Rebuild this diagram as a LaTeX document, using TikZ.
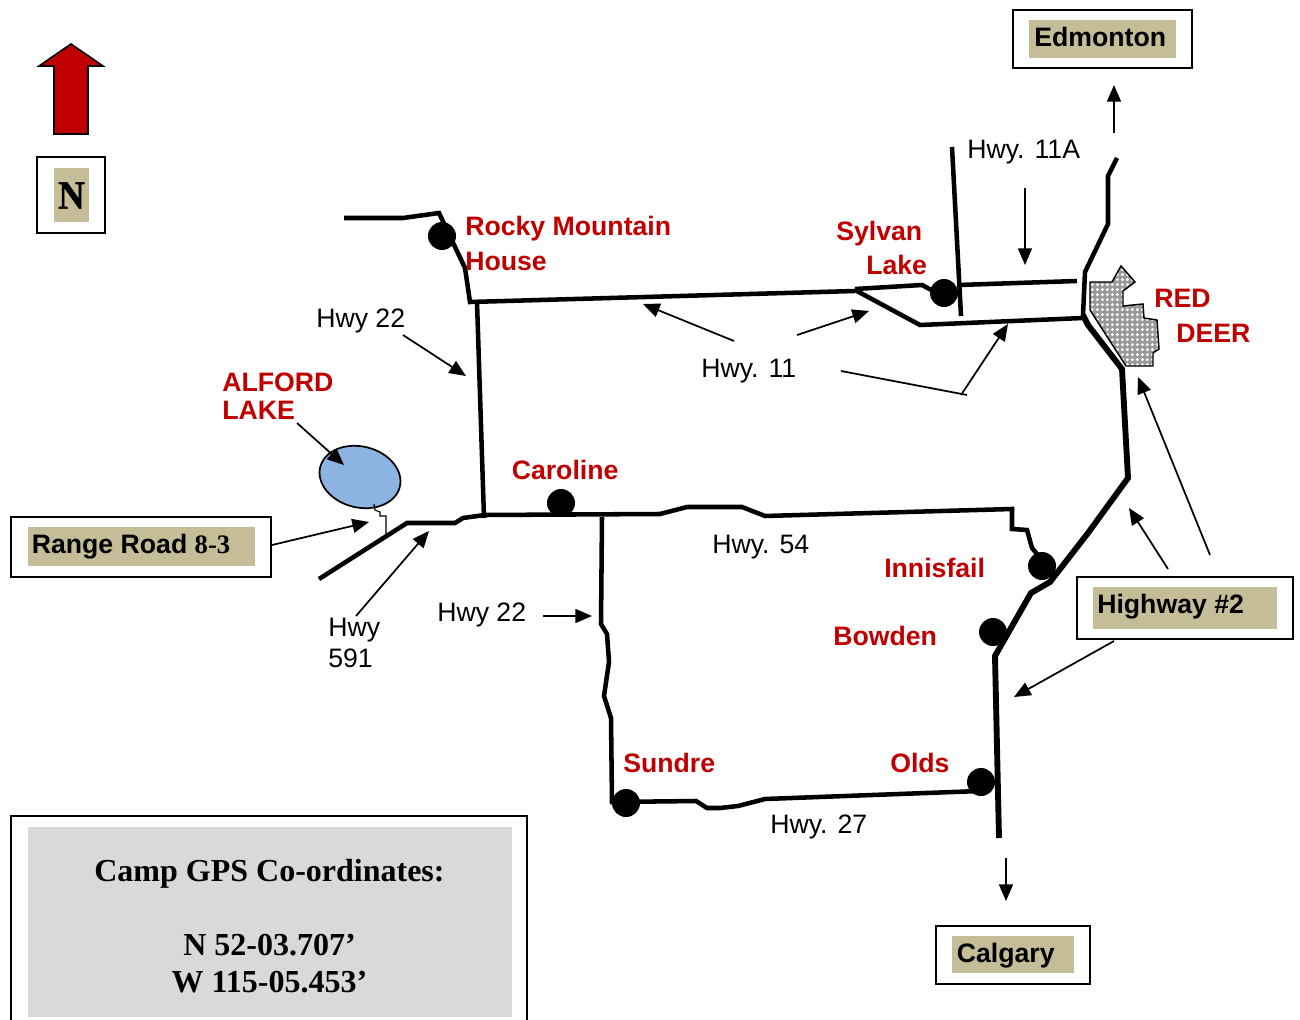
\documentclass[tikz,border=0pt]{standalone}
\usepackage{fontspec}
\setmainfont{Liberation Sans}
\newfontfamily\serifb{Liberation Serif}[Scale=1]
\newfontfamily\serifn{Liberation Serif Bold}[FakeBold=1.2,FakeStretch=0.92]
\usetikzlibrary{arrows.meta,fit,patterns.meta}
\definecolor{tan}{HTML}{C4BD97}
\definecolor{rd}{HTML}{C00000}
\definecolor{lake}{HTML}{8DB3E2}
\definecolor{gpsgray}{HTML}{D9D9D9}
\tikzset{
  road/.style={line width=3.4pt,line join=miter,line cap=butt},
  mainroad/.style={road,line width=4.4pt},
  pointer/.style={line width=1.3pt,-{Triangle[length=12.5pt,width=10.5pt]}},
  plainln/.style={line width=1.3pt},
  town/.style={circle,fill=black,inner sep=0pt,minimum size=21pt},
  frame/.style={draw=black,line width=1.5pt,inner sep=0pt,fill=white},
  tanbox/.style={fill=tan,inner sep=0pt},
  lbl/.style={font=\fontsize{20}{24}\selectfont,anchor=base west,inner sep=0pt},
  redl/.style={lbl,font=\fontsize{20}{24}\selectfont\bfseries,text=rd},
  blk/.style={lbl,font=\fontsize{20}{24}\selectfont\bfseries},
  gps/.style={font=\fontsize{24}{28}\selectfont\serifb\bfseries,inner sep=0pt,anchor=base},
}
\newcommand{\pxbox}[6]{\node[#6,fit={(#2,#3)(#4,#5)}] (#1) {};}
\newcommand{\hwysp}{\hspace{2pt} }
\frenchspacing
\begin{document}
\begin{tikzpicture}[x=0.75pt,y=-0.75pt]
\useasboundingbox (0,0) rectangle (1300,1020);
\clip (0,0) rectangle (1300,1020);
% north arrow
\draw[fill=rd,line width=1.2pt,line join=miter] (71,44)--(39,66)--(54,66)--(54,134)--(88,134)--(88,66)--(103,66)--cycle;
% boxes
\pxbox{nbox}{37}{157}{105}{233}{frame}
\pxbox{ntan}{54}{168}{89}{222}{tanbox}
\node[font=\fontsize{30}{30}\selectfont\serifn,inner sep=0pt] (ntext) at (71.5,195.5) {N};
\pxbox{edbox}{1013}{10}{1192}{68}{frame}
\pxbox{edtan}{1029}{20}{1176}{58}{tanbox}
\node[blk] (edtext) at (1034,47) {Edmonton};
\pxbox{rrbox}{11}{517}{271}{577}{frame}
\pxbox{rrtan}{28}{527}{255}{566}{tanbox}
\node[blk] (rrtext) at (31.5,553) {Range Road {\serifb 8-3}};
\pxbox{hwbox}{1077}{577}{1293}{639}{frame}
\pxbox{hwtan}{1093}{587}{1277}{629}{tanbox}
\node[blk] (hwtext) at (1097,613) {Highway \#2};
\pxbox{cgbox}{936}{926}{1090}{984}{frame}
\pxbox{cgtan}{952}{936}{1074}{973}{tanbox}
\node[blk] (cgtext) at (956.5,962) {Calgary};
\pxbox{gpsbox}{11}{816}{527}{1040}{frame}
\pxbox{gpstan}{28}{827}{512}{1017}{tanbox,fill=gpsgray}
\node[gps] (g1) at (269.5,881) {Camp GPS Co-ordinates:};
\node[gps] (g2) at (269.5,955) {N 52-03.707’};
\node[gps] (g3) at (269.5,992) {W 115-05.453’};
% red deer
\path[fill=gray!80] (1090,282)--(1112,282)--(1121,266)--(1135,282)--(1123,291)--(1123,306)--(1143,304)--(1144,318)--(1157,320)--(1159,349)--(1153,353)--(1153,366)--(1126,366)--(1090,310)--cycle;
\draw[line width=1.1pt,line join=miter,pattern={Dots[distance=4pt,radius=1.3pt]},pattern color=white] (1090,282)--(1112,282)--(1121,266)--(1135,282)--(1123,291)--(1123,306)--(1143,304)--(1144,318)--(1157,320)--(1159,349)--(1153,353)--(1153,366)--(1126,366)--(1090,310)--cycle;
% lake and stream
\draw[fill=lake,line width=1.3pt,rotate around={-14:(360,477)}] (360,477) ellipse [x radius=41,y radius=30.5];
\draw[line width=0.9pt] (374,504)--(375,510)--(380,512)--(380,516)--(386,516)--(386,536);
% roads
\draw[road] (1117,158)--(1108,176)--(1108,224)--(1085,272)--(1083,315)--(1088,325);
\draw[mainroad] (1083,315)--(1088,325)--(1122,369)--(1128,478)--(1088,533)--(1050,582)--(1031,593)--(995,656)--(999,838);
\draw[road] (344,218)--(403,218)--(439,213)--(465,268)--(470,302)--(855,291);
\draw[road] (855,289)--(922,285)--(935,292);
\draw[road] (958,285)--(1077,281);
\draw[road] (855,290)--(920,325)--(1083,318);
\draw[road] (952,147)--(961,316);
\draw[road] (477,302)--(484,518);
\draw[road] (319,579)--(407,523)--(455,523)--(463,518)--(485,515)--(660,514)--(687,507)--(742,507)--(765,516)--(1012,509)--(1012,529)--(1027,530)--(1032,548)--(1042,560);
\draw[road] (602,517)--(601,624)--(607,634)--(609,662)--(604,696)--(611,718)--(612,802)--(696,801)--(707,808)--(720,808)--(738,806)--(765,799)--(980,791);
% towns
\node[town] (rocky) at (442,236) {};
\node[town] (caro) at (561,503) {};
\node[town] (sylv) at (944,293) {};
\node[town] (inni) at (1042,566) {};
\node[town] (bowd) at (993,632) {};
\node[town] (olds) at (981,782) {};
\node[town] (sund) at (626,803) {};
% red labels
\node[redl] (l1) at (465,236) {Rocky Mountain};
\node[redl] (l2) at (465,270) {House};
\node[redl] (l3) at (836,240) {Sylvan};
\node[redl] (l4) at (866,274) {Lake};
\node[redl] (l5) at (1154,307) {RED};
\node[redl] (l6) at (1176,342) {DEER};
\node[redl] (l7) at (222,391) {ALFORD};
\node[redl] (l8) at (222,419) {LAKE};
\node[redl] (l9) at (511.5,479) {Caroline};
\node[redl] (l10) at (884,577) {Innisfail};
\node[redl] (l11) at (833,645) {Bowden};
\node[redl] (l12) at (623,772) {Sundre};
\node[redl] (l13) at (890,772) {Olds};
% black labels
\node[lbl] (h1) at (967,159) {Hwy.\hwysp 11A};
\node[lbl] (h2) at (316,327) {Hwy 22};
\node[lbl] (h3) at (701,377) {Hwy.\hwysp 11};
\node[lbl] (h4) at (712,553) {Hwy.\hwysp 54};
\node[lbl] (h5) at (437,621) {Hwy 22};
\node[lbl] (h6) at (328,636) {Hwy};
\node[lbl] (h7) at (328,667) {591};
\node[lbl] (h8) at (770,833) {Hwy.\hwysp 27};
% arrow anchors
\coordinate (a1s) at (1114,133); \coordinate (a1e) at (1114,85);
\coordinate (a2s) at (1025,188); \coordinate (a2e) at (1025,265);
\coordinate (a3s) at (403,335); \coordinate (a3e) at (466,376);
\coordinate (a4s) at (734,341); \coordinate (a4e) at (643,304);
\coordinate (a5s) at (797,335); \coordinate (a5e) at (869,311);
\coordinate (a6s) at (841,371); \coordinate (a6m) at (967,395);
\coordinate (a7s) at (961,395); \coordinate (a7e) at (1008,324);
\coordinate (a8s) at (297,423); \coordinate (a8e) at (344,465);
\coordinate (a9s) at (272,545); \coordinate (a9e) at (369,522);
\coordinate (a10s) at (356,616); \coordinate (a10e) at (429,531);
\coordinate (a11s) at (543,616); \coordinate (a11e) at (592,616);
\coordinate (a12s) at (1210,555); \coordinate (a12e) at (1138,377);
\coordinate (a13s) at (1168,569); \coordinate (a13e) at (1129,508);
\coordinate (a14s) at (1114,641); \coordinate (a14e) at (1014,697);
\coordinate (a15s) at (1006,858); \coordinate (a15e) at (1006,901);
\foreach \n in {1,2,3,4,5,7,8,9,10,11,12,13,14,15}{\draw[pointer] (a\n s)--(a\n e);}
\draw[plainln] (a6s)--(a6m);
\end{tikzpicture}
\end{document}
